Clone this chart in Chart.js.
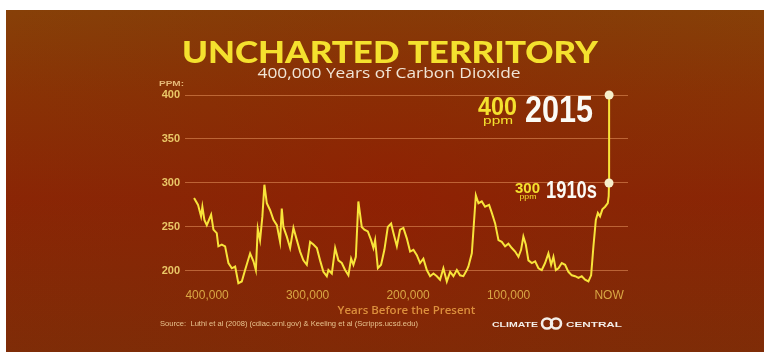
<!DOCTYPE html>
<html>
<head>
<meta charset="utf-8">
<script src="https://cdn.jsdelivr.net/npm/chart.js@4/dist/chart.umd.min.js"></script>
<style>
html,body{margin:0;padding:0;background:#fff;}
#wrap{width:764px;height:352px;position:relative;}
</style>
</head>
<body>
<div id="wrap"><canvas id="c" width="764" height="352"></canvas></div>
<script>
// ---- data (thousands of years before present, CO2 ppm) ----
const yearsAgoK = [413,409,406,404.7,402.7,400.3,396,393.7,390.4,388.8,385.4,382.1,378.8,375.4,372.1,368.9,365.5,362.2,357.2,353.9,351.5,349.6,347.3,345,343,340.6,337.3,334,330.6,327.4,325.7,324.1,320.7,317.4,314.1,310.7,307.5,304.2,300.8,297.5,294.2,290.8,287.6,284.3,280.9,279.3,275.9,272.6,269.4,266,262.7,259.4,256.7,254.4,252,249.5,246.1,243.5,240.1,236.8,234.5,232.8,230.1,226.9,223.6,220.2,216.9,214.6,211.2,208,204.7,201.3,198,194.7,191.3,188.1,184.8,181.4,178.1,174.8,171.4,168.2,164.9,161.5,158.2,154.9,151.5,148.3,145,141.6,140,136.6,132.6,130,126.7,123.4,119.4,116.7,113.4,110.1,106.8,103.5,100.2,96.8,93.5,90.2,87.6,85.3,82.9,80.3,76.9,73.6,70.3,67,63.7,60.4,57.7,55.4,53,50.4,47.1,43.8,40.5,37.1,33.8,30.5,27.2,23.9,20.6,17.9,15.6,13.2,11.2,9,6.7,4,1.3,0.4,0.1,0];
const co2Ppm = [283,275,262,273,258,252,264,247,243,228,230,228,209,203,205,186,188,201,220,211,201,248,235,262,298,277,269,258,252,233,271,250,239,226,249,235,222,212,207,233,230,226,212,199,194,201,197,226,212,209,201,195,214,207,216,279,250,247,245,235,226,235,203,207,224,250,254,243,228,247,249,237,222,224,218,209,214,201,194,197,194,190,203,188,199,194,201,195,194,201,205,220,286,277,279,273,275,266,254,235,233,228,231,226,222,216,224,239,230,212,209,211,203,201,209,220,207,216,201,203,209,207,199,195,194,192,194,190,188,195,228,258,266,262,270,273,277,285,300,400];

const xTickValues = [400,300,200,100,0];
const xTickLabels = ['400,000','300,000','200,000','100,000','NOW'];
const yTickValues = [200,250,300,350,400];

const highlightYearsK = [0.1, 0];
const highlightPpm = [300, 400];
const highlightLabels = ['1910s', '2015'];

const titleText = 'UNCHARTED TERRITORY';
const subtitleText = '400,000 Years of Carbon Dioxide';
const xAxisTitle = 'Years Before the Present';
const yUnitLabel = 'PPM:';
const sourceText = 'Source:  Luthi et al (2008) (cdiac.ornl.gov) & Keeling et al (Scripps.ucsd.edu)';

// ---- helpers ----
function fitText(ctx, text, x, y, w, font, color, align) {
  ctx.save();
  ctx.font = font;
  ctx.fillStyle = color;
  ctx.textBaseline = 'alphabetic';
  ctx.textAlign = 'left';
  const nat = ctx.measureText(text).width;
  const s = w / nat;
  ctx.translate(x, y);
  ctx.scale(s, 1);
  let off = 0;
  if (align === 'right') off = -nat;
  else if (align === 'center') off = -nat / 2;
  ctx.fillText(text, off, 0);
  ctx.restore();
}

const bgPlugin = {
  id: 'bg',
  beforeDraw(chart) {
    const ctx = chart.ctx;
    ctx.save();
    const g = ctx.createLinearGradient(0, 10, 0, 352);
    g.addColorStop(0, '#874008');
    g.addColorStop(0.25, '#8a3205');
    g.addColorStop(0.55, '#8b2505');
    g.addColorStop(1, '#7f2c07');
    ctx.fillStyle = g;
    ctx.fillRect(6, 10, 758, 342);
    const r = ctx.createRadialGradient(390, 200, 30, 390, 200, 420);
    r.addColorStop(0, 'rgba(150,25,0,0.3)');
    r.addColorStop(1, 'rgba(110,50,10,0.0)');
    ctx.fillStyle = r;
    ctx.fillRect(6, 10, 758, 342);
    ctx.restore();
  }
};

const textPlugin = {
  id: 'texts',
  afterDraw(chart) {
    const ctx = chart.ctx;
    // title
    fitText(ctx, titleText, 390, 63, 416, '900 31px Lato, "Liberation Sans", sans-serif', '#f4e12e', 'center');
    fitText(ctx, subtitleText, 389, 78, 263, '400 15px "Open Sans", Lato, sans-serif', '#f1e5d6', 'center');
    // unit label
    fitText(ctx, yUnitLabel, 159, 86, 25, 'bold 8px "Liberation Sans", sans-serif', '#e6b878', 'left');
    // source
    fitText(ctx, sourceText, 160, 326, 258, '400 7px "Liberation Sans", sans-serif', '#e9c38e', 'left');
    // logo
    fitText(ctx, 'CLIMATE', 492, 327, 46, 'bold 8px "Liberation Sans", sans-serif', '#f4eee8', 'left');
    fitText(ctx, 'CENTRAL', 566, 327, 56, 'bold 8px "Liberation Sans", sans-serif', '#f4eee8', 'left');
    ctx.save();
    ctx.strokeStyle = '#f4eee8';
    ctx.lineWidth = 2.6;
    ctx.beginPath(); ctx.arc(547, 323.5, 5, 0, Math.PI * 2); ctx.stroke();
    ctx.beginPath(); ctx.arc(556, 323.5, 5, 0, Math.PI * 2); ctx.stroke();
    ctx.restore();

    // annotations
    const xs = chart.scales.x, ys = chart.scales.y;
    for (let i = 0; i < highlightPpm.length; i++) {
      const px = xs.getPixelForValue(highlightYearsK[i]);
      const py = ys.getPixelForValue(highlightPpm[i]);
      const big = highlightPpm[i] >= 350;
      if (big) {
        fitText(ctx, String(highlightPpm[i]), px - 92, py + 20, 39, 'bold 25px "Liberation Sans Narrow", "Liberation Sans", sans-serif', '#f4e12e', 'right');
        fitText(ctx, 'ppm', px - 111, py + 29, 30, '400 11px "Liberation Sans", sans-serif', '#f4e12e', 'center');
        fitText(ctx, highlightLabels[i], px - 16, py + 27, 68, 'bold 37px "Liberation Sans Narrow", "Liberation Sans", sans-serif', '#fbfbf6', 'right');
      } else {
        fitText(ctx, String(highlightPpm[i]), px - 69, py + 10, 25, 'bold 14px "Liberation Sans Narrow", "Liberation Sans", sans-serif', '#f4e12e', 'right');
        fitText(ctx, 'ppm', px - 81, py + 16, 17, '400 7px "Liberation Sans", sans-serif', '#f4e12e', 'center');
        fitText(ctx, highlightLabels[i], px - 12, py + 15, 51, 'bold 24px "Liberation Sans Narrow", "Liberation Sans", sans-serif', '#fbfbf6', 'right');
      }
    }
  }
};

const lineData = yearsAgoK.map((x, i) => ({ x: x, y: co2Ppm[i] }));
const pointData = highlightYearsK.map((x, i) => ({ x: x, y: highlightPpm[i] }));

new Chart(document.getElementById('c'), {
  type: 'scatter',
  data: {
    datasets: [
      {
        data: pointData,
        showLine: false,
        pointRadius: 4.5,
        pointBackgroundColor: '#f6efcb',
        pointBorderWidth: 0,
        clip: false
      },
      {
        data: lineData,
        showLine: true,
        borderColor: '#f8e43a',
        borderWidth: 2,
        pointRadius: 0,
        tension: 0,
        clip: false
      }
    ]
  },
  options: {
    responsive: false,
    animation: false,
    events: [],
    layout: { padding: { left: 140, right: 136, top: 95, bottom: 34 } },
    plugins: { legend: { display: false }, tooltip: { enabled: false } },
    scales: {
      x: {
        type: 'linear',
        reverse: true,
        min: -18.8,
        max: 422,
        afterBuildTicks(scale) { scale.ticks = xTickValues.map(v => ({ value: v })); },
        afterFit(scale) { scale.height = 33; },
        ticks: {
          autoSkip: false,
          maxRotation: 0,
          padding: 3,
          color: '#d9a744',
          font: { family: '"Liberation Sans Narrow", "Liberation Sans", sans-serif', size: 12, weight: 'normal' },
          callback(v) { const i = xTickValues.indexOf(v); return i >= 0 ? xTickLabels[i] : ''; }
        },
        grid: { display: false, drawTicks: false },
        border: { display: false },
        title: {
          display: true,
          text: xAxisTitle,
          color: '#dc8f3c',
          padding: { top: 0, bottom: 0 },
          font: { family: '"Open Sans", Lato, sans-serif', size: 11.5, weight: '600' }
        }
      },
      y: {
        type: 'linear',
        min: 184,
        max: 400,
        afterBuildTicks(scale) { scale.ticks = yTickValues.map(v => ({ value: v })); },
        afterFit(scale) { scale.width = 45; },
        ticks: {
          padding: 5,
          color: '#eac767',
          font: { family: '"Liberation Sans", sans-serif', size: 11, weight: 'bold' }
        },
        grid: { drawTicks: false, color: 'rgba(232,150,95,0.55)', lineWidth: 1 },
        border: { display: false }
      }
    }
  },
  plugins: [bgPlugin, textPlugin]
});
</script>
</body>
</html>
